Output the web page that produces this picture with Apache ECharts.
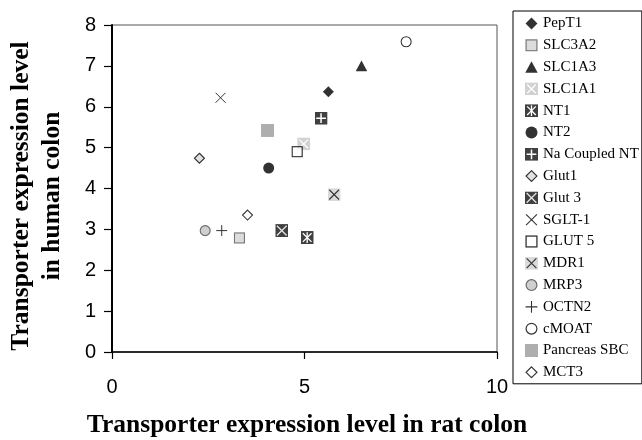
<!DOCTYPE html>
<html>
<head>
<meta charset="utf-8">
<script src="https://cdn.jsdelivr.net/npm/echarts@6/dist/echarts.min.js"></script>
<style>html,body{margin:0;padding:0;background:#fff}#c{width:642px;height:440px}</style>
</head>
<body>
<div id="c"></div>
<script>
// ---- data ----
var transporters = ['PepT1','SLC3A2','SLC1A3','SLC1A1','NT1','NT2','Na Coupled NT','Glut1','Glut 3','SGLT-1','GLUT 5','MDR1','MRP3','OCTN2','cMOAT','Pancreas SBC','MCT3'];
var ratColon   = [5.62, 3.31, 6.48, 4.98, 5.07, 4.07, 5.43, 2.27, 4.41, 2.82, 4.81, 5.77, 2.42, 2.85, 7.64, 4.04, 3.52];
var humanColon = [6.37, 2.79, 7.00, 5.09, 2.80, 4.50, 5.72, 4.74, 2.97, 6.22, 4.90, 3.85, 2.97, 2.97, 7.59, 5.42, 3.35];
var xTicks = [0, 5, 10];
var yTicks = [0, 1, 2, 3, 4, 5, 6, 7, 8];

// ---- marker glyphs ----
function svgIcon(body) {
  return 'image://data:image/svg+xml;charset=utf-8,' + encodeURIComponent(
    '<svg xmlns="http://www.w3.org/2000/svg" width="48" height="48" viewBox="0 0 24 24">' + body + '</svg>');
}
var X = '<path d="M4,4L20,20M20,4L4,20" stroke="#fff" stroke-width="2.4" fill="none"/>';
var icons = [
  svgIcon('<polygon points="12,1 23,12 12,23 1,12" fill="#000"/>'),
  svgIcon('<rect x="2" y="2" width="20" height="20" fill="#d4d4d4" stroke="#555" stroke-width="2.2"/>'),
  svgIcon('<polygon points="12,1 23.5,22.5 0.5,22.5" fill="#000"/>'),
  svgIcon('<rect x="0" y="0" width="24" height="24" fill="#c6c6c6"/>' + X),
  svgIcon('<rect x="0" y="0" width="24" height="24" fill="#111"/>' + X + '<path d="M12,2L12,22" stroke="#fff" stroke-width="2.4"/>'),
  svgIcon('<circle cx="12" cy="12" r="11" fill="#000"/>'),
  svgIcon('<rect x="0" y="0" width="24" height="24" fill="#111"/><path d="M12,3L12,21M3,12L21,12" stroke="#fff" stroke-width="2.8"/>'),
  svgIcon('<polygon points="12,2 22,12 12,22 2,12" fill="#dcdcdc" stroke="#000" stroke-width="2.2"/>'),
  svgIcon('<rect x="0" y="0" width="24" height="24" fill="#111"/><path d="M3,3L21,21M21,3L3,21" stroke="#ddd" stroke-width="2.4"/>'),
  svgIcon('<path d="M2,2L22,22M22,2L2,22" stroke="#000" stroke-width="2" fill="none"/>'),
  svgIcon('<rect x="2" y="2" width="20" height="20" fill="#fff" stroke="#000" stroke-width="2.4"/>'),
  svgIcon('<rect x="0" y="0" width="24" height="24" fill="#d2d2d2"/><path d="M3,3L21,21M21,3L3,21" stroke="#000" stroke-width="2"/>'),
  svgIcon('<circle cx="12" cy="12" r="10" fill="#c4c4c4" stroke="#444" stroke-width="2.2"/>'),
  svgIcon('<path d="M12,1L12,23M1,12L23,12" stroke="#000" stroke-width="2" fill="none"/>'),
  svgIcon('<circle cx="12" cy="12" r="10" fill="#fff" stroke="#000" stroke-width="2.2"/>'),
  svgIcon('<rect x="0" y="0" width="24" height="24" fill="#9a9a9a"/>'),
  svgIcon('<polygon points="12,2 22,12 12,22 2,12" fill="#fff" stroke="#000" stroke-width="2.2"/>')
];
var sizes = [12, 12, 12, 13, 13, 12, 13, 12, 13, 12, 12, 13, 12, 12, 12, 13, 12];

var series = transporters.map(function (name, i) {
  return {
    name: name,
    type: 'scatter',
    symbol: icons[i],
    symbolSize: sizes[i],
    data: [[ratColon[i], humanColon[i]]],
    z: 2 + i
  };
});

var chart = echarts.init(document.getElementById('c'));
chart.setOption({
  animation: false,
  backgroundColor: '#fff',
  grid: { left: 112, right: 145, top: 25, bottom: 88, show: true, borderColor: '#555', borderWidth: 1 },
  xAxis: {
    type: 'value', min: xTicks[0], max: xTicks[xTicks.length - 1], interval: 5,
    axisLine: { lineStyle: { color: '#000', width: 1.5 } },
    axisTick: { show: true, length: 7, lineStyle: { color: '#000', width: 1.2 } },
    axisLabel: { margin: 25, fontFamily: 'Liberation Sans, Arial', fontSize: 20, color: '#000' },
    splitLine: { show: false }
  },
  yAxis: {
    type: 'value', min: yTicks[0], max: yTicks[yTicks.length - 1], interval: 1,
    axisLine: { show: true, lineStyle: { color: '#000', width: 2 } },
    axisTick: { show: true, length: 8, lineStyle: { color: '#000', width: 1.2 } },
    axisLabel: { margin: 16, fontFamily: 'Liberation Sans, Arial', fontSize: 20, color: '#000' },
    splitLine: { show: false }
  },
  legend: {
    orient: 'vertical', left: 513, top: 11,
    padding: [5, 3, 4, 12],
    itemWidth: 13, itemHeight: 13, itemGap: 6.8,
    borderColor: '#000', borderWidth: 1,
    textStyle: { fontFamily: 'Liberation Serif, Times New Roman', fontSize: 15, color: '#000' },
    data: transporters.map(function (n, i) { return { name: n, icon: icons[i] }; })
  },
  graphic: [
    { type: 'text', x: 307, y: 425,
      style: { text: 'Transporter expression level in rat colon', fontFamily: 'Liberation Serif, Times New Roman', fontWeight: 'bold', fontSize: 25.5, fill: '#000', align: 'center', verticalAlign: 'middle' } },
    { type: 'text', x: 37, y: 196, rotation: Math.PI / 2,
      style: { text: 'Transporter expression level\nin human colon', fontFamily: 'Liberation Serif, Times New Roman', fontWeight: 'bold', fontSize: 25.5, lineHeight: 31, fill: '#000', align: 'center', verticalAlign: 'middle' } }
  ],
  series: series
});
</script>
</body>
</html>
